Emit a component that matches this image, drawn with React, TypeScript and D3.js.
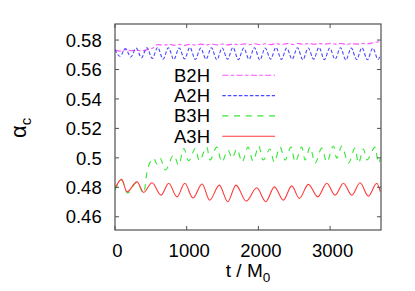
import * as d3 from "d3";

// B2H (magenta, dash-dot)
const b2h: [number, number][] = [
  [0, 0.5732], [75, 0.5725], [150, 0.5735], [225, 0.5727], [300, 0.5733], [375, 0.5726],
  [450, 0.5735], [525, 0.5745], [600, 0.577], [675, 0.5764], [750, 0.5772], [825, 0.5765],
  [900, 0.577], [975, 0.5764], [1050, 0.5771], [1125, 0.5765], [1200, 0.5772], [1275, 0.5766],
  [1350, 0.5773], [1425, 0.5767], [1500, 0.5773], [1575, 0.5767], [1650, 0.5774], [1725, 0.5768],
  [1800, 0.5774], [1875, 0.5768], [1950, 0.5775], [2025, 0.5769], [2100, 0.5775], [2175, 0.5769],
  [2250, 0.5776], [2325, 0.577], [2400, 0.5776], [2475, 0.577], [2550, 0.5777], [2625, 0.5771],
  [2700, 0.5777], [2775, 0.5771], [2850, 0.5777], [2925, 0.5771], [3000, 0.5778], [3075, 0.5772],
  [3150, 0.5777], [3225, 0.5771], [3300, 0.5776], [3375, 0.5772], [3450, 0.5778], [3525, 0.5775],
  [3600, 0.5782], [3700, 0.579],
];

// A2H (blue, dotted)
const a2h: [number, number][] = [
  [0, 0.5735], [70, 0.569], [145, 0.5742], [220, 0.5685], [295, 0.5745], [370, 0.568],
  [445, 0.5748], [520, 0.5675], [595, 0.575], [670, 0.567], [745, 0.5748], [820, 0.5668],
  [895, 0.5746], [970, 0.5672], [1045, 0.575], [1120, 0.5668], [1195, 0.5745], [1270, 0.567],
  [1345, 0.5748], [1420, 0.5666], [1495, 0.5746], [1570, 0.567], [1645, 0.575], [1720, 0.5667],
  [1795, 0.5745], [1870, 0.567], [1945, 0.5748], [2020, 0.5665], [2095, 0.5746], [2170, 0.567],
  [2245, 0.575], [2320, 0.5668], [2395, 0.5745], [2470, 0.567], [2545, 0.5748], [2620, 0.5666],
  [2695, 0.5746], [2770, 0.567], [2845, 0.575], [2920, 0.5667], [2995, 0.5745], [3070, 0.567],
  [3145, 0.5748], [3220, 0.5665], [3295, 0.5746], [3370, 0.5668], [3445, 0.5748], [3520, 0.5666],
  [3595, 0.5745], [3670, 0.5668], [3700, 0.57],
];

// B3H (green, dashed)
const b3h: [number, number][] = [
  [0, 0.4781], [93, 0.4849], [174, 0.4761], [307, 0.4835], [400, 0.4759], [447, 0.4905],
  [493, 0.4973], [540, 0.4996], [586, 0.4958], [632, 0.4996], [702, 0.4917], [819, 0.5019],
  [889, 0.4951], [959, 0.5064], [1028, 0.498], [1120, 0.5064], [1176, 0.498], [1279, 0.5073],
  [1326, 0.4985], [1419, 0.5073], [1489, 0.4971], [1577, 0.5053], [1633, 0.4998], [1702, 0.506],
  [1772, 0.4971], [1856, 0.5073], [1926, 0.4978], [2005, 0.508], [2065, 0.4985], [2163, 0.506],
  [2219, 0.4971], [2302, 0.5073], [2372, 0.4985], [2456, 0.5073], [2512, 0.4971], [2605, 0.5073],
  [2651, 0.4985], [2721, 0.5073], [2791, 0.4964], [2884, 0.5066], [2954, 0.4971], [3046, 0.508],
  [3093, 0.4998], [3163, 0.508], [3255, 0.4964], [3349, 0.5066], [3395, 0.4964], [3465, 0.506],
  [3512, 0.4985], [3628, 0.5073], [3674, 0.4964], [3700, 0.4995],
];

// A3H (red, solid)
const a3h: [number, number][] = [
  [0, 0.4793], [93, 0.4854], [167, 0.4769], [307, 0.4837], [400, 0.4765], [516, 0.4831],
  [642, 0.4747], [749, 0.4827], [865, 0.4735], [973, 0.4827], [1088, 0.4727], [1214, 0.4822],
  [1321, 0.4713], [1455, 0.4815], [1572, 0.4702], [1688, 0.4815], [1830, 0.4706], [1977, 0.4797],
  [2103, 0.4702], [2223, 0.4803], [2348, 0.4713], [2465, 0.481], [2571, 0.4725], [2697, 0.482],
  [2828, 0.4735], [2954, 0.4827], [3070, 0.4747], [3186, 0.4827], [3303, 0.4747], [3418, 0.4831],
  [3534, 0.474], [3651, 0.4827], [3700, 0.477],
];

const xTicks = [0, 1000, 2000, 3000];
const yTicks = [0.46, 0.48, 0.5, 0.52, 0.54, 0.56, 0.58];

const series = [
  { name: "B2H", data: b2h, color: "#ff50ff", dash: "6,2.5,3.3,2.5" },
  { name: "A2H", data: a2h, color: "#4848ff", dash: "3.5,2" },
  { name: "B3H", data: b3h, color: "#33e833", dash: "6,5.7" },
  { name: "A3H", data: a3h, color: "#ff3838", dash: null },
];

const W = 415;
const H = 291;
const left = 115, right = 381, top = 24, bottom = 230;
const font = "'Liberation Sans', Arial, Helvetica, sans-serif";

export default function App() {
  const x = d3.scaleLinear().domain([0, 3710]).range([left, right]);
  const y = d3.scaleLinear().domain([0.451, 0.5909]).range([bottom, top]);
  const line = d3
    .line<[number, number]>()
    .x((d) => x(d[0]))
    .y((d) => y(d[1]))
    .curve(d3.curveMonotoneX);

  return (
    <div style={{ position: "absolute", left: 0, top: 0 }}>
      <svg width={W} height={H} style={{ display: "block", background: "#fff" }}>
        <defs>
          <clipPath id="plot">
            <rect x={left} y={top} width={right - left} height={bottom - top} />
          </clipPath>
        </defs>

        <g clipPath="url(#plot)" fill="none">
          {series.map((s) => (
            <path
              key={s.name}
              d={line(s.data) || ""}
              stroke={s.color}
              strokeWidth={1.1}
              strokeDasharray={s.dash || undefined}
            />
          ))}
        </g>

        {/* frame */}
        <rect x={left} y={top} width={right - left} height={bottom - top} fill="none" stroke="#505050" strokeWidth={1.2} />

        {/* ticks */}
        <g stroke="#505050" strokeWidth={1}>
          {xTicks.map((t) => (
            <g key={"xt" + t}>
              <line x1={x(t)} x2={x(t)} y1={bottom} y2={bottom - 4} />
              <line x1={x(t)} x2={x(t)} y1={top} y2={top + 4} />
            </g>
          ))}
          {yTicks.map((t) => (
            <g key={"yt" + t}>
              <line x1={left} x2={left + 4} y1={y(t)} y2={y(t)} />
              <line x1={right} x2={right - 4} y1={y(t)} y2={y(t)} />
            </g>
          ))}
        </g>

        <g fontFamily={font} fontSize={18.5} fill="#000">
          {xTicks.map((t) => (
            <text key={"xl" + t} x={x(t) + 2.5} y={256.7} textAnchor="middle">
              {t}
            </text>
          ))}
          {yTicks.map((t) => (
            <text key={"yl" + t} x={101.7} y={y(t)} dy="0.36em" textAnchor="end">
              {d3.format("")(t)}
            </text>
          ))}

          <text x={248} y={277} textAnchor="middle" fontSize={19}>
            t / M<tspan fontSize={13.5} dy={5}>0</tspan>
          </text>

          <text transform="translate(26,138) rotate(-90)" textAnchor="start" fontSize={22}>
            α<tspan fontSize={15} dy={5}>c</tspan>
          </text>

          {series.map((s, i) => (
            <g key={"lg" + s.name}>
              <text x={210} y={75.3 + i * 20.3 + 6.5} textAnchor="end">
                {s.name}
              </text>
              <line
                x1={222.3}
                x2={275}
                y1={75.3 + i * 20.3}
                y2={75.3 + i * 20.3}
                stroke={s.color}
                strokeWidth={1.1}
                strokeDasharray={s.dash || undefined}
              />
            </g>
          ))}
        </g>
      </svg>
    </div>
  );
}
